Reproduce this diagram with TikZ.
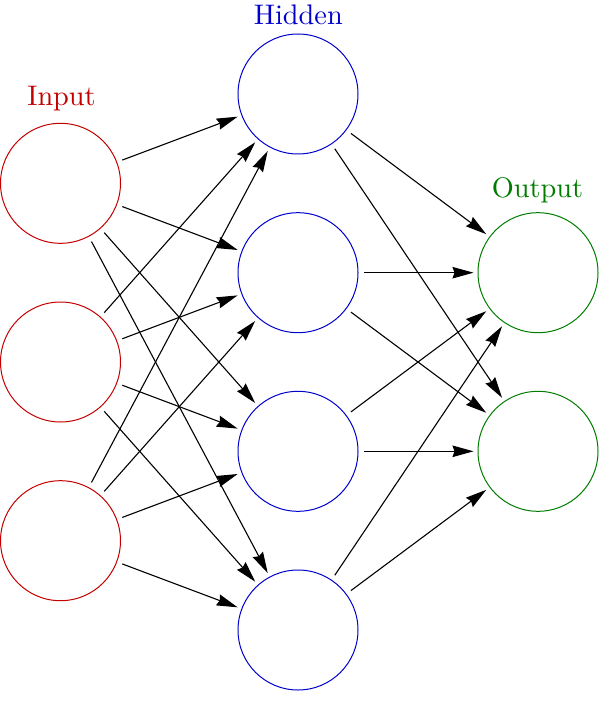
\documentclass[tikz,border=0pt]{standalone}
\usepackage{fontspec}
\newfontfamily\lmten{lmroman10-regular}[Extension=.otf]
\usetikzlibrary{arrows.meta}
\definecolor{inred}{RGB}{195,0,0}
\definecolor{hidblue}{RGB}{0,0,205}
\definecolor{outgreen}{RGB}{0,125,0}
\begin{document}
\begin{tikzpicture}[x=1pt,y=-1pt,
  neuron/.style={circle,draw,line width=1pt,minimum size=120pt,inner sep=0pt},
  inneuron/.style={neuron,draw=inred},
  hidneuron/.style={neuron,draw=hidblue},
  outneuron/.style={neuron,draw=outgreen},
  layerlabel/.style={font=\lmten\fontsize{28.3}{34}\selectfont,anchor=base,inner sep=0pt},
  conn/.style={line width=1.1pt,-{Stealth[length=21pt,width=11.5pt,inset=2pt]},shorten <=5.5pt,shorten >=4pt}]
\useasboundingbox (0,0) rectangle (600,722);
\node[inneuron] (i1) at (60.5,183.3) {};
\node[inneuron] (i2) at (60.5,362) {};
\node[inneuron] (i3) at (60.5,540.7) {};
\node[hidneuron] (h1) at (298,94) {};
\node[hidneuron] (h2) at (298,272.7) {};
\node[hidneuron] (h3) at (298,451.3) {};
\node[hidneuron] (h4) at (298,630) {};
\node[outneuron] (o1) at (538,272.7) {};
\node[outneuron] (o2) at (538,451.3) {};
\node[layerlabel,text=inred] (lin) at (61.5,106) {Input};
\node[layerlabel,text=hidblue] (lhid) at (298.3,25) {Hidden};
\node[layerlabel,text=outgreen] (lout) at (537.5,197) {Output};
\foreach \i in {1,2,3}{
  \foreach \h in {1,2,3,4}{
    \draw[conn] (i\i) -- (h\h);
  }
}
\foreach \h in {1,2,3,4}{
  \foreach \o in {1,2}{
    \draw[conn] (h\h) -- (o\o);
  }
}
\end{tikzpicture}
\end{document}
